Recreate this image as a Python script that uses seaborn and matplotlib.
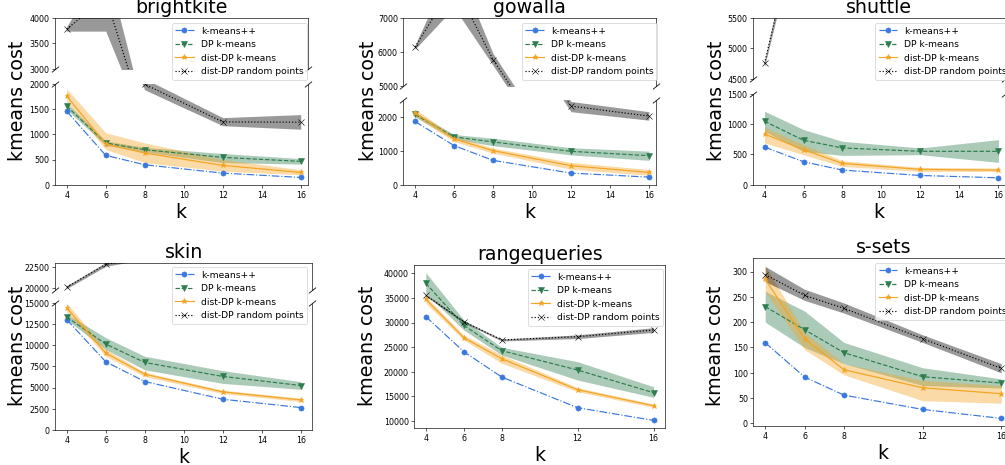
import matplotlib
matplotlib.use('Agg')
import matplotlib.pyplot as plt
import seaborn as sns

# ── data ──
ks = [4, 6, 8, 12, 16]
labels = ['k-means++', 'DP k-means', 'dist-DP k-means', 'dist-DP random points']

# brightkite
bk_kpp = [1457, 583, 397, 232, 146]
bk_dp = [1556, 828, 695, 543, 464]
bk_dp_lo = [1490, 780, 650, 440, 410]
bk_dp_hi = [1620, 870, 740, 620, 520]
bk_ddp = [1755, 808, 629, 384, 245]
bk_ddp_lo = [1640, 700, 440, 270, 200]
bk_ddp_hi = [1900, 1030, 830, 500, 300]
bk_rnd = [3780, 4400, 1990, 1245, 1240]
bk_rnd_lo = [3740, 3740, 1880, 1170, 1100]
bk_rnd_hi = [3830, 5060, 2100, 1330, 1390]

# gowalla
gw_kpp = [1862, 1153, 719, 345, 227]
gw_dp = [2069, 1409, 1261, 985, 857]
gw_dp_lo = [2000, 1340, 1150, 880, 720]
gw_dp_hi = [2130, 1480, 1370, 1090, 990]
gw_ddp = [2118, 1350, 1005, 562, 365]
gw_ddp_lo = [2000, 1270, 930, 460, 280]
gw_ddp_hi = [2230, 1430, 1080, 660, 450]
gw_rnd = [6140, 8000, 5770, 2315, 2020]
gw_rnd_lo = [6080, 7300, 5600, 2150, 1900]
gw_rnd_hi = [6200, 8700, 5950, 2450, 2150]

# shuttle
sh_kpp = [623, 380, 243, 154, 116]
sh_dp = [1048, 734, 607, 552, 552]
sh_dp_lo = [880, 552, 485, 496, 370]
sh_dp_hi = [1213, 910, 717, 607, 745]
sh_ddp = [838, 579, 353, 254, 243]
sh_ddp_lo = [690, 496, 303, 221, 221]
sh_ddp_hi = [949, 662, 397, 287, 276]
sh_rnd = [4751, 7475, 7000, 6500, 6200]
sh_rnd_lo = [4700, 7300, 6800, 6300, 6000]
sh_rnd_hi = [4800, 7650, 7200, 6700, 6400]

# skin
sk_kpp = [13030, 8050, 5720, 3630, 2645]
sk_dp = [13340, 10140, 7970, 6320, 5250]
sk_dp_lo = [13000, 9500, 7100, 5500, 4800]
sk_dp_hi = [13700, 10900, 8700, 7000, 5700]
sk_ddp = [14410, 9080, 6590, 4500, 3550]
sk_ddp_lo = [13900, 8700, 6300, 4300, 3350]
sk_ddp_hi = [15000, 9500, 6800, 4700, 3750]
sk_rnd = [20120, 22820, 23600, 25000, 26000]
sk_rnd_lo = [19950, 22600, 23400, 24800, 25800]
sk_rnd_hi = [20300, 23050, 23800, 25200, 26200]

# rangequeries
rq_kpp = [31200, 24090, 18940, 12710, 10140]
rq_dp = [37970, 29440, 24290, 20360, 15760]
rq_dp_lo = [35940, 28490, 23410, 18330, 14810]
rq_dp_hi = [40130, 30520, 24970, 22050, 16970]
rq_ddp = [34720, 26930, 22660, 16370, 13120]
rq_ddp_lo = [33900, 26460, 21720, 15960, 12780]
rq_ddp_hi = [35260, 27470, 23410, 16770, 13450]
rq_rnd = [35530, 30180, 26460, 27130, 28490]
rq_rnd_lo = [35300, 29950, 26250, 26750, 28000]
rq_rnd_hi = [35750, 30400, 26650, 27500, 28950]

# s-sets
ss_kpp = [159.5, 91.6, 56, 27.7, 9.9]
ss_dp = [230.7, 185.2, 139.8, 92.3, 79.8]
ss_dp_lo = [200, 150, 118, 75, 70]
ss_dp_hi = [261, 222, 160, 110, 88]
ss_ddp = [284.8, 167.4, 106.1, 70.5, 58.7]
ss_ddp_lo = [260, 146, 96, 45, 40]
ss_ddp_hi = [312, 180, 118, 85, 75]
ss_rnd = [294, 253, 227.4, 167.4, 108.8]
ss_rnd_lo = [280, 243, 218, 160, 100]
ss_rnd_hi = [310, 265, 238, 175, 118]

BLUE = '#3b78de'
GREEN = '#2e7d4e'
ORANGE = '#f4a322'

W, H, DPI = 1005, 465, 57
fig = plt.figure(figsize=(W / DPI + 0.005, H / DPI + 0.005), dpi=DPI)


def px_axes(left, right, top, bottom):
    return fig.add_axes([left / W, 1 - bottom / H, (right - left) / W, (bottom - top) / H])


def draw(ax, kpp, dp, dp_lo, dp_hi, ddp, ddp_lo, ddp_hi, rnd, rnd_lo, rnd_hi):
    ax.fill_between(ks, dp_lo, dp_hi, color=GREEN, alpha=0.4, lw=0)
    ax.fill_between(ks, ddp_lo, ddp_hi, color=ORANGE, alpha=0.4, lw=0)
    ax.fill_between(ks, rnd_lo, rnd_hi, color='k', alpha=0.4, lw=0)
    line_kw = dict(ax=ax, legend=False, markersize=6.5, linewidth=1.5)
    sns.lineplot(x=ks, y=kpp, color=BLUE, linestyle='-.', marker='o',
                 markeredgecolor=BLUE, label=labels[0], **line_kw)
    sns.lineplot(x=ks, y=dp, color=GREEN, linestyle='--', marker='v',
                 markeredgecolor=GREEN, label=labels[1], **line_kw)
    sns.lineplot(x=ks, y=ddp, color=ORANGE, linestyle='-', marker='*',
                 markeredgecolor=ORANGE, label=labels[2], **line_kw)
    sns.lineplot(x=ks, y=rnd, color='k', linestyle=':', marker='x',
                 markeredgecolor='k', label=labels[3], **line_kw)


def add_legend(ax, right, top):
    handles, labs = ax.get_legend_handles_labels()
    fig.legend(handles, labs, loc='upper right', fontsize=11.5, borderaxespad=0,
               bbox_to_anchor=(right / W, 1 - top / H))


def finish(ax, xticks):
    ax.set_xticks(xticks)
    ax.set_xlabel('k', fontsize=24)


def broken_panel(left, right, top_box, bot_box, ylim_t, ylim_b, yt_t, yt_b,
                 title, series, leg, ylab):
    ax_t = px_axes(left, right, *top_box)
    ax_b = px_axes(left, right, *bot_box)
    for ax in (ax_t, ax_b):
        draw(ax, *series)
        ax.set_xlim(3.4, 16.35)
    ax_t.set_ylim(*ylim_t)
    ax_b.set_ylim(*ylim_b)
    ax_t.set_yticks(yt_t)
    ax_b.set_yticks(yt_b)
    ax_t.spines['bottom'].set_visible(False)
    ax_b.spines['top'].set_visible(False)
    ax_t.tick_params(bottom=False, labelbottom=False)
    d = 0.8
    kw = dict(marker=[(-1, -d), (1, d)], markersize=9, linestyle='none',
              color='k', mec='k', mew=1, clip_on=False)
    ax_t.plot([0, 1], [0, 0], transform=ax_t.transAxes, **kw)
    ax_b.plot([0, 1], [1, 1], transform=ax_b.transAxes, **kw)
    ax_t.set_title(title, fontsize=24)
    finish(ax_b, [4, 6, 8, 10, 12, 14, 16])
    add_legend(ax_b, *leg)
    fig.text(ylab[0] / W, 1 - ylab[1] / H, 'kmeans cost', rotation=90,
             ha='center', va='center', fontsize=24)
    return ax_t, ax_b


broken_panel(55, 307.5, (18, 69.5), (84, 185), (3000, 4000), (0, 2000),
             [3000, 3500, 4000], [0, 500, 1000, 1500, 2000], 'brightkite',
             (bk_kpp, bk_dp, bk_dp_lo, bk_dp_hi, bk_ddp, bk_ddp_lo, bk_ddp_hi,
              bk_rnd, bk_rnd_lo, bk_rnd_hi), (307, 23), (17, 101))

broken_panel(403.3, 655.5, (18, 86), (100, 185), (5000, 7000), (0, 2500),
             [5000, 6000, 7000], [0, 1000, 2000], 'gowalla',
             (gw_kpp, gw_dp, gw_dp_lo, gw_dp_hi, gw_ddp, gw_ddp_lo, gw_ddp_hi,
              gw_rnd, gw_rnd_lo, gw_rnd_hi), (657, 23), (368, 101))

broken_panel(752.6, 1005, (18, 79), (94, 185), (4500, 5500), (0, 1500),
             [4500, 5000, 5500], [0, 500, 1000, 1500], 'shuttle',
             (sh_kpp, sh_dp, sh_dp_lo, sh_dp_hi, sh_ddp, sh_ddp_lo, sh_ddp_hi,
              sh_rnd, sh_rnd_lo, sh_rnd_hi), (1010, 23), (716, 101))

ax_t, ax_b = broken_panel(55, 312.4, (263, 290), (303, 430), (19800, 23000), (0, 15000),
                          [20000, 22500], [0, 2500, 5000, 7500, 10000, 12500, 15000], 'skin',
                          (sk_kpp, sk_dp, sk_dp_lo, sk_dp_hi, sk_ddp, sk_ddp_lo, sk_ddp_hi,
                           sk_rnd, sk_rnd_lo, sk_rnd_hi), (307, 267), (17, 346))
for ax in (ax_t, ax_b):
    ax.set_xlim(3.4, 16.6)

# rangequeries
ax = px_axes(414.3, 664.7, 265, 428)
draw(ax, rq_kpp, rq_dp, rq_dp_lo, rq_dp_hi, rq_ddp, rq_ddp_lo, rq_ddp_hi,
     rq_rnd, rq_rnd_lo, rq_rnd_hi)
ax.set_xlim(3.4, 16.6)
ax.set_ylim(8600, 41700)
ax.set_yticks(range(10000, 40001, 5000))
ax.set_title('rangequeries', fontsize=24)
finish(ax, ks)
add_legend(ax, 663, 269)
fig.text(367 / W, 1 - 346 / H, 'kmeans cost', rotation=90, ha='center', va='center', fontsize=24)

# s-sets
ax = px_axes(753.2, 1012.8, 258, 426)
draw(ax, ss_kpp, ss_dp, ss_dp_lo, ss_dp_hi, ss_ddp, ss_ddp_lo, ss_ddp_hi,
     ss_rnd, ss_rnd_lo, ss_rnd_hi)
ax.set_xlim(3.4, 16.6)
ax.set_ylim(-5, 327)
ax.set_yticks(range(0, 301, 50))
ax.set_title('s-sets', fontsize=24)
finish(ax, ks)
add_legend(ax, 1010, 263)
fig.text(715 / W, 1 - 346 / H, 'kmeans cost', rotation=90, ha='center', va='center', fontsize=24)

fig.savefig('out.png', dpi=DPI)
